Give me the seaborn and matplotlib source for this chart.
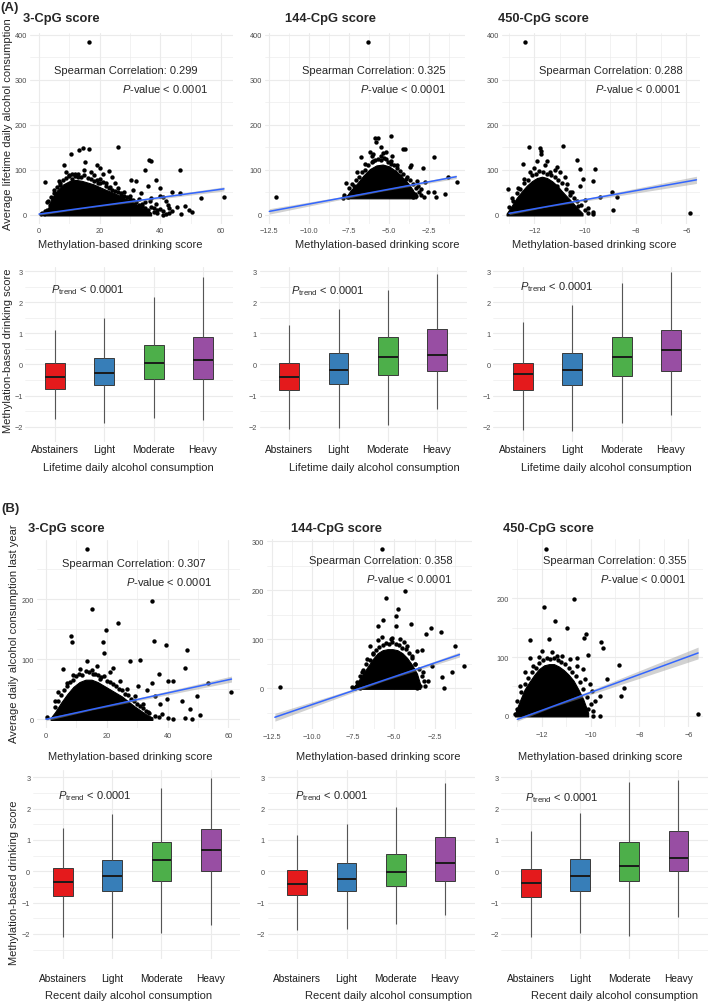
import numpy as np
import pandas as pd
import matplotlib
matplotlib.use("Agg")
import matplotlib.pyplot as plt
import seaborn as sns

# ------------------------------------------------------------------ data
categories = ["Abstainers", "Light", "Moderate", "Heavy"]
box_colors = ["#E41A1C", "#377EB8", "#4DAF4A", "#984EA3"]
score_titles = ["3-CpG score", "144-CpG score", "450-CpG score"]
spearman_A = ["0.299", "0.325", "0.288"]
spearman_B = ["0.307", "0.358", "0.355"]

# ---- (A) lifetime scatter: sparse points, points at the cloud edge, dense core envelope, fit line
A1_x = [16.4, 26.1, 14.5, 13.1, 16.4, 10.6, 15.1, 8.3, 36.2, 37.0, 46.5, 34.9, 1.9, 19, 20, 23, 24,
        30.5, 32, 38.5, 36, 40, 44, 46.5, 53.5, 61, 48, 49.5, 50.5, 47, 41, 43, 38.5, 42, 33, 30, 28,
        26, 22, 20, 18, 12, 10, 6.5, 5, 3, 2.5, 1, 44, 45.5, 39, 36, 34, 32, 14.8, 17, 13, 21, 25, 27,
        29, 35, 37, 40, 41, 0.5, 9, 11, 7, 19.5, 23.5, 31, 33.5, 36.5, 38, 42.5]
A1_y = [383, 152, 148, 144, 147, 135, 118, 112, 121, 120, 99, 100, 74, 110, 105, 98, 85,
        78, 75, 77, 65, 60, 52, 48, 38, 40, 20, 12, 6, 3, 0, 15, 25, 30, 35, 42, 50,
        60, 70, 80, 88, 90, 88, 75, 55, 30, 28, 4, 8, 18, 10, 5, 20, 10, 100, 95, 85, 92, 72, 45,
        30, 28, 38, 42, 40, 2, 95, 80, 70, 72, 62, 55, 48, 32, 15, 22]
A1_ex = [4, 5, 6, 7, 8, 9, 10, 11, 12, 13, 14, 15, 16, 17, 18, 19, 20, 21, 22, 23, 24, 25, 26, 27,
         28, 29, 30, 31, 32, 33, 34, 35, 36, 37, 38, 39, 40, 41, 42, 43, 3.5, 2.8, 2, 1.5]
A1_ey = [40, 48, 62, 66, 78, 82, 86, 90, 86, 92, 84, 88, 82, 80, 76, 78, 70, 74, 64, 60, 56, 54, 50, 48,
         42, 40, 35, 33, 28, 22, 24, 15, 12, 18, 6, 4, 14, 8, 3, 5, 22, 12, 8, 3]
A1_core_x = [2, 3, 4, 6, 8, 10, 12, 14, 16, 18, 20, 22, 25, 28, 31, 34, 37]
A1_core_top = [2, 15, 35, 55, 68, 75, 78, 76, 72, 68, 62, 56, 48, 38, 28, 16, 5]
A1_core_bot = -1
A1_fit_x = [0, 15, 61]
A1_fit_y = [2, 15.8, 58]
A1_ci = [2.5, 1.0, 4.5]

A2_x = [-6.35, -12.1, -5.9, -5.69, -4.9, -5.85, -6.2, -5.17, -4.13, -4.0, -2.19, -5.17, -4.86, -3.6,
        -3.7, -2.88, -7.67, -3.25, -2.73, -1.31, -0.75, -2.19, -1.52, -2.04, -3.4, -2.98, -6.73,
        -6.1, -5.48, -6.52, -7.04, -7.19, -7.35, -4.65, -4.33, -3.92, -3.19, -2.56, -7.55, -3.5,
        -3.3, -5.5, -6.0, -4.5]
A2_y = [383, 41, 172, 170, 176, 161, 139, 139, 147, 147, 128, 124, 113, 110,
        106, 104, 70, 76, 73, 84, 74, 52, 47, 41, 47, 58, 128,
        132, 130, 113, 95, 65, 47, 95, 87, 80, 64, 50, 40, 40,
        42, 150, 120, 110]
A2_ex = [-7.5, -7.3, -7.1, -6.9, -6.7, -6.5, -6.3, -6.1, -5.9, -5.7, -5.5, -5.3, -5.1, -4.9, -4.7,
         -4.5, -4.3, -4.1, -3.9, -3.7, -3.5, -3.3, -3.1, -3.0, -2.8, -7.8, -7.9, -6.0, -5.4, -4.8]
A2_ey = [60, 68, 78, 85, 95, 100, 112, 118, 122, 125, 122, 126, 118, 120, 110,
         105, 98, 92, 84, 78, 68, 60, 50, 45, 40, 45, 38, 135, 138, 130]
A2_core_x = [-7.7, -7.4, -7.0, -6.6, -6.2, -5.8, -5.4, -5.0, -4.6, -4.2, -3.8, -3.5, -3.3]
A2_core_top = [40, 55, 70, 88, 102, 110, 112, 108, 98, 85, 70, 55, 40]
A2_core_bot = 37
A2_fit_x = [-12.5, -5.5, -0.8]
A2_fit_y = [8, 54, 85]
A2_ci = [6, 1.5, 4]

A3_x = [-12.37, -12.21, -11.78, -11.75, -11.72, -10.88, -12.47, -11.9, -11.49, -10.33, -9.6, -10.2,
        -11.1, -13.05, -12.9, -10.07, -9.67, -8.95, -8.75, -9.41, -8.88, -5.86, -10.0, -10.26,
        -9.9, -9.67, -9.7, -10.6, -10.72, -10.99, -11.38, -12.17, -12.43, -12.63, -11.12,
        -10.46, -10.2]
A3_y = [385, 150, 148, 143, 136, 153, 113, 120, 120, 121, 101, 101,
        106, 58, 37, 81, 75, 52, 40, 39, 10, 5, 33, 21,
        15, 7, 2, 52, 69, 95, 95, 95, 80, 61, 65,
        18, 65]
A3_ex = [-13.0, -12.85, -12.7, -12.55, -12.4, -12.25, -12.1, -11.95, -11.8, -11.65, -11.5, -11.35,
         -11.2, -11.05, -10.9, -10.75, -10.6, -10.45, -10.3, -10.15, -10.0, -9.9, -12.0, -11.6,
         -11.2, -10.8, -10.5]
A3_ey = [18, 30, 48, 58, 70, 78, 88, 92, 98, 95, 92, 88,
         85, 78, 70, 58, 45, 38, 30, 22, 12, 5, 105, 110,
         100, 85, 50]
A3_core_x = [-13.1, -12.9, -12.7, -12.5, -12.3, -12.1, -11.9, -11.7, -11.5, -11.3, -11.1, -10.9,
             -10.7, -10.5, -10.3, -10.1]
A3_core_top = [3, 20, 38, 52, 65, 75, 82, 85, 82, 75, 65, 52, 40, 28, 15, 4]
A3_core_bot = -1
A3_fit_x = [-13.0, -11.6, -5.6]
A3_fit_y = [3.7, 17.8, 78]
A3_ci = [3, 1, 8]

# ---- (B) recent scatter
B1_x = [13.6, 35, 15.2, 23.6, 19.7, 8.2, 8.4, 18.9, 35.6, 39.5, 46.5, 19.2, 45.7, 5.5, 27.6, 30.9,
        13.6, 16.7, 22.1, 34.8, 37.3, 40.2, 41.9, 53.4, 60.7, 49.6, 44.6, 47.4, 50.7, 45.7, 47.9,
        41.9, 33.7, 28.7, 32, 29.3, 26.5, 24.3, 21, 11.2, 9, 6.8, 4.1, 3, 0.2, 37.5, 39.7, 35.9,
        33.1, 30.4, 17.8, 15.6]
B1_y = [283, 197, 183, 160, 148, 139, 128, 128, 131, 124, 115, 111, 85, 83, 97, 98,
        97, 89, 86, 61, 75, 64, 63, 61, 46, 39, 31, 17, 7, 2, 0,
        0, 12, 3, 25, 39, 50, 64, 78, 84, 73, 61, 45, 31, 3, 25, 34, 39,
        48, 56, 67, 75]
B1_ex = [3, 4, 5, 6, 7, 8, 9, 10, 11, 12, 13, 14, 15, 16, 17, 18, 19, 20, 21, 22, 23, 24, 25, 26,
         27, 28, 29, 30, 31, 32, 33, 34, 36, 37, 38, 40]
B1_ey = [20, 30, 40, 48, 55, 62, 66, 72, 76, 74, 80, 78, 82, 76, 74, 70, 72, 64, 62, 58, 55, 50, 48, 42,
         40, 34, 30, 26, 22, 18, 14, 10, 6, 3, 8, 2]
B1_core_x = [1.5, 3, 5, 7, 9, 11, 13, 15, 17, 19, 21, 23, 25, 27, 29, 31, 33, 35]
B1_core_top = [2, 12, 28, 42, 54, 62, 66, 66, 62, 56, 50, 44, 38, 30, 22, 15, 8, 3]
B1_core_bot = -1
B1_fit_x = [0, 15, 61]
B1_fit_y = [0, 16.5, 67]
B1_ci = [2.5, 1.0, 5]

B2_x = [-5.72, -4.34, -5.52, -4.74, -4.9, -5.66, -6.01, -4.9, -3.99, -2.77, -3.07, -2.15, -1.28, -0.7,
        -1.44, -2.05, -1.95, -11.99, -6.48, -5.77, -5.15, -4.64, -4.23, -3.62, -3.32, -3.72, -3.21,
        -2.7, -2.91, -3.42, -3.6, -7.09, -7.4, -6.99, -6.68, -6.28, -3.93]
B2_y = [284, 198, 184, 162, 148, 140, 128, 128, 131, 124, 112, 116, 86, 46,
        34, 24, 0, 2, 87, 104, 102, 100, 87, 77, 79, 50, 33,
        46, 16, 5, 0, 0, 0, 33, 60, 72, 67]
B2_ex = [-7.3, -7.1, -6.9, -6.7, -6.5, -6.3, -6.1, -5.9, -5.7, -5.5, -5.3, -5.1, -4.9, -4.7, -4.5,
         -4.3, -4.1, -3.9, -3.7, -3.5, -3.3, -3.2, -3.1, -7.6, -6.0, -5.2, -4.4]
B2_ey = [12, 25, 38, 50, 58, 70, 78, 85, 88, 92, 90, 94, 90, 88, 82,
         80, 72, 62, 50, 40, 25, 15, 5, 3, 98, 100, 95]
B2_core_x = [-7.5, -7.2, -6.9, -6.6, -6.3, -6.0, -5.7, -5.4, -5.1, -4.8, -4.5, -4.2, -3.9, -3.6, -3.4]
B2_core_top = [2, 15, 30, 45, 60, 72, 78, 80, 80, 78, 72, 62, 48, 30, 8]
B2_core_bot = -1
B2_fit_x = [-12.3, -5.6, -1.0]
B2_fit_y = [-59, 17, 69]
B2_ci = [8, 1.5, 5]

B3_x = [-11.82, -10.7, -11.9, -11.45, -10.98, -10.19, -10.27, -12.48, -11.7, -9.59, -9.5, -12.5, -12.1,
        -11.36, -11.17, -10.54, -10.09, -8.83, -9.34, -8.63, -8.77, -5.59, -9.61, -9.89, -9.61,
        -10.09, -9.82, -9.95, -10.3, -10.57, -13.02, -13.09, -12.89, -12.68, -12.34, -10.84,
        -10.02, -10.23]
B3_y = [284, 199, 185, 162, 149, 140, 132, 129, 130, 125, 116, 99, 101,
        102, 102, 99, 103, 86, 62, 47, 34, 3, 0, 0, 33,
        11, 26, 43, 80, 85, 11, 3, 51, 74, 85, 97,
        54, 62]
B3_ex = [-13.0, -12.85, -12.7, -12.55, -12.4, -12.25, -12.1, -11.95, -11.8, -11.65, -11.5, -11.35,
         -11.2, -11.05, -10.9, -10.75, -10.6, -10.45, -10.3, -10.15, -10.0, -9.9, -12.0, -11.6]
B3_ey = [25, 40, 55, 65, 75, 82, 90, 95, 98, 96, 99, 95,
         92, 88, 82, 75, 68, 58, 45, 32, 20, 8, 110, 108]
B3_core_x = [-13.1, -12.9, -12.7, -12.5, -12.3, -12.1, -11.9, -11.7, -11.5, -11.3, -11.1, -10.9,
             -10.7, -10.5, -10.3, -10.1]
B3_core_top = [3, 25, 45, 58, 70, 80, 86, 88, 88, 84, 78, 70, 60, 45, 28, 5]
B3_core_bot = -1
B3_fit_x = [-13.0, -11.6, -5.6]
B3_fit_y = [-6, 15.4, 107]
B3_ci = [3, 1.2, 10]

# ---- box statistics: [lower whisker, Q1, median, Q3, upper whisker] per category
boxA1 = [[-1.77, -0.78, -0.40, 0.04, 1.11], [-1.87, -0.67, -0.27, 0.20, 1.50],
         [-1.74, -0.46, 0.04, 0.61, 2.17], [-1.80, -0.46, 0.15, 0.89, 2.81]]
boxA2 = [[-2.09, -0.83, -0.40, 0.06, 1.27], [-2.06, -0.62, -0.17, 0.36, 1.80],
         [-1.96, -0.33, 0.23, 0.89, 2.40], [-1.45, -0.20, 0.29, 1.14, 2.91]]
boxA3 = [[-2.11, -0.83, -0.31, 0.06, 1.37], [-2.14, -0.65, -0.17, 0.37, 1.90],
         [-1.90, -0.38, 0.24, 0.88, 2.63], [-1.63, -0.22, 0.47, 1.11, 2.99]]
boxB1 = [[-2.11, -0.80, -0.35, 0.10, 1.38], [-2.13, -0.64, -0.16, 0.37, 1.82],
         [-1.98, -0.30, 0.35, 0.93, 2.66], [-1.72, 0.00, 0.67, 1.35, 2.97]]
boxB2 = [[-1.86, -0.77, -0.41, 0.03, 1.16], [-1.84, -0.62, -0.24, 0.27, 1.51],
         [-1.69, -0.48, -0.03, 0.55, 2.06], [-1.38, -0.30, 0.27, 1.09, 2.82]]
boxB3 = [[-2.11, -0.81, -0.38, 0.07, 1.30], [-1.98, -0.62, -0.14, 0.40, 1.87],
         [-2.05, -0.32, 0.18, 0.95, 2.84], [-1.47, 0.00, 0.44, 1.29, 2.93]]

# ------------------------------------------------------------------ style
sns.set_theme(style="white")
plt.rcParams['font.family'] = ['Liberation Sans', 'DejaVu Sans']
plt.rcParams['mathtext.fontset'] = 'custom'
plt.rcParams['mathtext.rm'] = 'Liberation Sans'
plt.rcParams['mathtext.it'] = 'Liberation Sans:italic'
plt.rcParams['mathtext.bf'] = 'Liberation Sans:bold'
plt.rcParams['axes.unicode_minus'] = True

W, H = 709, 1003
fig = plt.figure(figsize=(W / 100, H / 100), dpi=100)
fig.patch.set_facecolor('white')

GRID = '#EBEBEB'
TICKC = '#4D4D4D'


def add_ax(l, t, r, b):
    return fig.add_axes([l / W, 1 - b / H, (r - l) / W, (b - t) / H])


def ftext(x, y, s, **kw):
    fig.text(x / W, 1 - y / H, s, **kw)


def finish(ax, xmaj, xmin, ymaj, ymin, xl, yl, xfmt, yfmt, xpad=2.0):
    ax.set_xlim(xl)
    ax.set_ylim(yl)
    ax.set_xticks(xmaj)
    ax.set_xticks(xmin, minor=True)
    ax.set_yticks(ymaj)
    ax.set_yticks(ymin, minor=True)
    if xfmt is not None:
        ax.set_xticklabels([xfmt(v) for v in xmaj])
    ax.set_yticklabels([yfmt(v) for v in ymaj])
    for s in ax.spines.values():
        s.set_visible(False)
    ax.set_facecolor('white')
    ax.grid(which='major', color=GRID, lw=0.8)
    ax.grid(which='minor', color=GRID, lw=0.45)
    ax.set_axisbelow(True)
    ax.tick_params(which='both', length=0)
    ax.tick_params(axis='y', labelsize=5.3, labelcolor=TICKC, pad=2.0)
    ax.tick_params(axis='x', labelsize=5.3, labelcolor=TICKC, pad=xpad)
    ax.set_xlabel('')
    ax.set_ylabel('')


def num(v):
    return f"{v:g}".replace('-', '\u2212')


def num1(v):
    return f"{v:.1f}".replace('-', '\u2212')


def scatter_panel(ax, xs, ys, ex, ey, cx, ctop, cbot, fx, fy, fci):
    ax.fill_between(cx, cbot, ctop, color='black', lw=0.8, edgecolor='black', zorder=2)
    sns.scatterplot(x=list(xs) + list(ex), y=list(ys) + list(ey), ax=ax, color='black', s=10,
                    linewidth=0, zorder=3, legend=False)
    lo = [a - b for a, b in zip(fy, fci)]
    hi = [a + b for a, b in zip(fy, fci)]
    ax.fill_between(fx, lo, hi, color='#999999', alpha=0.45, lw=0, zorder=4)
    ax.plot(fx, fy, color='#3366FF', lw=1.1, zorder=5)


def box_panel(ax, stats, yl, pad):
    vals, cats = [], []
    for c, st in zip(categories, stats):
        vals += st
        cats += [c] * 5
    df = pd.DataFrame({'cat': cats, 'val': vals})
    sns.boxplot(data=df, x='cat', y='val', hue='cat', order=categories, hue_order=categories,
                palette=box_colors, width=0.4, whis=(0, 100), showfliers=False,
                linecolor='#3a3a3a', linewidth=0.7, legend=False, saturation=1, ax=ax,
                medianprops=dict(color='#1a1a1a', linewidth=1.4),
                whiskerprops=dict(color='#555555', linewidth=0.8),
                capprops=dict(visible=False))
    finish(ax, [0, 1, 2, 3], [], [-2, -1, 0, 1, 2, 3],
           [-2.5, -1.5, -0.5, 0.5, 1.5, 2.5], (-0.6, 3.6), yl, None, num)
    ax.grid(axis='x', which='minor', visible=False)
    ax.set_xticklabels(categories)
    ax.tick_params(axis='x', labelsize=7.3, labelcolor='#1a1a1a', pad=pad)


pval_txt = r"$\mathit{P}$-value < 0.0001"
ptrend_txt = r"$\mathit{P}_{\mathrm{trend}}$ < 0.0001"
TXT = 8

# ------------------------------------------------------------------ row 1 (A scatter)
ylA = (-20, 404)
yA_maj = [0, 100, 200, 300, 400]
yA_min = [50, 150, 250, 350]

ax = add_ax(30, 34, 233, 225)
scatter_panel(ax, A1_x, A1_y, A1_ex, A1_ey, A1_core_x, A1_core_top, A1_core_bot, A1_fit_x, A1_fit_y, A1_ci)
finish(ax, [0, 20, 40, 60], [10, 30, 50], yA_maj, yA_min, (-2.97, 64.0), ylA, num, num)
ax.text(28.7, 322, f"Spearman Correlation: {spearman_A[0]}", ha='center', va='center', fontsize=TXT)
ax.text(41.6, 282, pval_txt, ha='center', va='center', fontsize=TXT)

ax = add_ax(265, 34, 465, 225)
scatter_panel(ax, A2_x, A2_y, A2_ex, A2_ey, A2_core_x, A2_core_top, A2_core_bot, A2_fit_x, A2_fit_y, A2_ci)
finish(ax, [-12.5, -10, -7.5, -5, -2.5], [-11.25, -8.75, -6.25, -3.75, -1.25], yA_maj, yA_min,
       (-12.77, -0.25), ylA, num1, num)
ax.text(-5.96, 322, f"Spearman Correlation: {spearman_A[1]}", ha='center', va='center', fontsize=TXT)
ax.text(-4.14, 282, pval_txt, ha='center', va='center', fontsize=TXT)

ax = add_ax(502, 34, 700, 225)
scatter_panel(ax, A3_x, A3_y, A3_ex, A3_ey, A3_core_x, A3_core_top, A3_core_bot, A3_fit_x, A3_fit_y, A3_ci)
finish(ax, [-12, -10, -8, -6], [-13, -11, -9, -7], yA_maj, yA_min,
       (-13.28, -5.46), ylA, num, num)
ax.text(-8.98, 322, f"Spearman Correlation: {spearman_A[2]}", ha='center', va='center', fontsize=TXT)
ax.text(-7.89, 282, pval_txt, ha='center', va='center', fontsize=TXT)

# ------------------------------------------------------------------ row 2 (A boxes)
yl2 = (-2.45, 3.15)
ax = add_ax(25.4, 267.6, 232.6, 443.1)
box_panel(ax, boxA1, yl2, 1.5)
ax.text(0.67, 2.41, ptrend_txt, ha='center', va='center', fontsize=TXT)
ax = add_ax(259.7, 267.6, 466.6, 443.1)
box_panel(ax, boxA2, yl2, 1.5)
ax.text(0.78, 2.38, ptrend_txt, ha='center', va='center', fontsize=TXT)
ax = add_ax(493.4, 267.6, 700.6, 443.1)
box_panel(ax, boxA3, yl2, 1.5)
ax.text(0.68, 2.52, ptrend_txt, ha='center', va='center', fontsize=TXT)

# ------------------------------------------------------------------ row 3 (B scatter)
ax = add_ax(37, 541, 240, 729)
scatter_panel(ax, B1_x, B1_y, B1_ex, B1_ey, B1_core_x, B1_core_top, B1_core_bot, B1_fit_x, B1_fit_y, B1_ci)
finish(ax, [0, 20, 40, 60], [10, 30, 50], [0, 100, 200], [50, 150, 250],
       (-2.96, 63.8), (-14.5, 298.8), num, num, xpad=3)
ax.text(28.9, 261, f"Spearman Correlation: {spearman_B[0]}", ha='center', va='center', fontsize=TXT)
ax.text(40.4, 231, pval_txt, ha='center', va='center', fontsize=TXT)

ax = add_ax(266.7, 540, 471.7, 730)
scatter_panel(ax, B2_x, B2_y, B2_ex, B2_ey, B2_core_x, B2_core_top, B2_core_bot, B2_fit_x, B2_fit_y, B2_ci)
finish(ax, [-12.5, -10, -7.5, -5, -2.5], [-11.25, -8.75, -6.25, -3.75, -1.25],
       [0, 100, 200, 300], [-50, 50, 150, 250], (-12.8, -0.25), (-83, 305), num1, num, xpad=3)
ax.text(-5.83, 262, f"Spearman Correlation: {spearman_B[1]}", ha='center', va='center', fontsize=TXT)
ax.text(-4.1, 225, pval_txt, ha='center', va='center', fontsize=TXT)

ax = add_ax(511.7, 540, 703, 728)
scatter_panel(ax, B3_x, B3_y, B3_ex, B3_ey, B3_core_x, B3_core_top, B3_core_bot, B3_fit_x, B3_fit_y, B3_ci)
finish(ax, [-12, -10, -8, -6], [-13, -11, -9, -7], [0, 100, 200], [50, 150, 250],
       (-13.23, -5.4), (-19, 301), num, num, xpad=3)
ax.text(-9.03, 265, f"Spearman Correlation: {spearman_B[2]}", ha='center', va='center', fontsize=TXT)
ax.text(-7.85, 235, pval_txt, ha='center', va='center', fontsize=TXT)

# ------------------------------------------------------------------ row 4 (B boxes)
yl4 = (-2.8, 3.24)
ax = add_ax(33.1, 770.8, 240.3, 960)
box_panel(ax, boxB1, yl4, 10)
ax.text(0.65, 2.44, ptrend_txt, ha='center', va='center', fontsize=TXT)
ax = add_ax(267.7, 770.8, 474.6, 960)
box_panel(ax, boxB2, yl4, 10)
ax.text(0.70, 2.44, ptrend_txt, ha='center', va='center', fontsize=TXT)
ax = add_ax(501.4, 770.8, 707.9, 960)
box_panel(ax, boxB3, yl4, 10)
ax.text(0.63, 2.36, ptrend_txt, ha='center', va='center', fontsize=TXT)

# ------------------------------------------------------------------ figure texts
ftext(0, 8, "(A)", fontsize=9.5, fontweight='bold', ha='left', va='center')
ftext(1, 509, "(B)", fontsize=9.5, fontweight='bold', ha='left', va='center')

for x, t in zip([23, 285, 498], score_titles):
    ftext(x, 19, t, fontsize=9.3, fontweight='bold', ha='left', va='center')
for x, t in zip([28, 291, 503], score_titles):
    ftext(x, 529, t, fontsize=9.3, fontweight='bold', ha='left', va='center')

LAB = 8
ftext(8, 124, "Average lifetime daily alcohol consumption", fontsize=LAB, rotation=90, ha='center', va='center')
ftext(8, 351, "Methylation-based drinking score", fontsize=LAB, rotation=90, ha='center', va='center')
ftext(14, 634, "Average daily alcohol consumption last year", fontsize=LAB, rotation=90, ha='center', va='center')
ftext(14, 883, "Methylation-based drinking score", fontsize=LAB, rotation=90, ha='center', va='center')

for x in [120, 377, 594.7]:
    ftext(x, 245, "Methylation-based drinking score", fontsize=LAB, ha='center', va='center')
for x in [128, 374.5, 606.7]:
    ftext(x, 468, "Lifetime daily alcohol consumption", fontsize=LAB, ha='center', va='center')
for x in [130, 378, 600]:
    ftext(x, 757, "Methylation-based drinking score", fontsize=LAB, ha='center', va='center')
for x in [128.5, 388.5, 614.5]:
    ftext(x, 996, "Recent daily alcohol consumption", fontsize=LAB, ha='center', va='center')

fig.savefig("out.png", dpi=100, facecolor='white')
